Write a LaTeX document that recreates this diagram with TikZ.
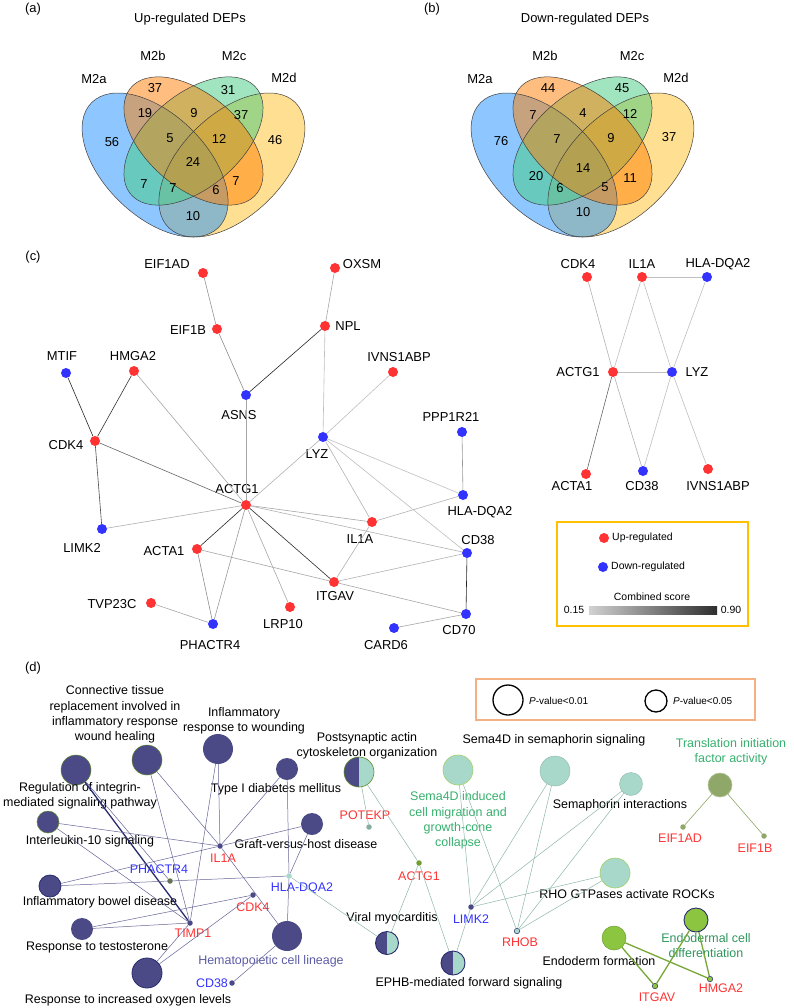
\documentclass[tikz,border=0pt]{standalone}
\usepackage{fontspec}
\setmainfont{Liberation Sans}
\usepackage{tikz}
\usetikzlibrary{shapes}

\definecolor{vblue}{RGB}{30,144,255}
\definecolor{vorange}{RGB}{255,127,0}
\definecolor{vgreen}{RGB}{67,205,128}
\definecolor{vyellow}{RGB}{255,193,37}
\definecolor{upred}{RGB}{255,51,51}
\definecolor{dnblue}{RGB}{51,51,255}
\definecolor{boxgold}{RGB}{255,192,0}
\definecolor{boxpeach}{RGB}{244,177,131}
\definecolor{dpurple}{RGB}{75,74,134}
\definecolor{lteal}{RGB}{168,216,202}
\definecolor{tgreen}{RGB}{140,197,64}
\definecolor{tolive}{RGB}{143,168,105}
\definecolor{txtgreen}{RGB}{55,176,110}
\definecolor{hemtxt}{RGB}{92,92,166}
\definecolor{navyb}{RGB}{40,44,110}

\tikzset{
  vline/.style={draw=black!75,line width=0.5bp},
  vtxt/.style={font=\fontsize{13}{15.5}\selectfont,inner sep=0pt},
  legtxt/.style={font=\fontsize{10.5}{12}\selectfont,inner sep=0pt},
  dl/.style={font=\fontsize{12.5}{15.5}\selectfont,inner sep=0pt,align=center},
  up/.style={circle,fill=upred,inner sep=0pt,minimum size=10bp},
  dn/.style={circle,fill=dnblue,inner sep=0pt,minimum size=10bp},
  ppi/.style={line width=0.6bp,draw=black!#1},
  tp/.style={circle,inner sep=0pt,fill=dpurple,minimum size=#1},
  tt/.style={circle,inner sep=0pt,fill=lteal,minimum size=#1},
  th/.style={circle,inner sep=0pt,fill=lteal,minimum size=#1,
    path picture={\fill[dpurple] (path picture bounding box.north west) rectangle (path picture bounding box.south);}},
  gd/.style={circle,inner sep=0pt,minimum size=5.5bp,fill=#1},
  pe/.style={draw=dpurple!85,line width=0.5bp},
  te/.style={draw=lteal!85!black,line width=0.5bp},
  ge/.style={draw=tgreen!85!black,line width=1.3bp},
  oe/.style={draw=tolive,line width=0.6bp}
}

\begin{document}
\begin{tikzpicture}
\fill[white] (0bp,0bp) rectangle (794bp,-1008bp);
\useasboundingbox (0bp,0bp) rectangle (794bp,-1008bp);

\node (pa) at (33bp,-9bp) [vtxt] {(a)};
\node (pb) at (432bp,-9bp) [vtxt] {(b)};
\node (pc) at (33bp,-257bp) [vtxt] {(c)};
\node (pd) at (33bp,-668bp) [vtxt] {(d)};
\node (ta) at (190bp,-19bp) [vtxt] {Up-regulated DEPs};
\node (tb) at (585bp,-19bp) [vtxt] {Down-regulated DEPs};

\fill[vyellow,fill opacity=0.5,shift={(231.9bp,-165bp)},xscale=256,yscale=252.6,rotate=45] (0,0) ellipse (0.35bp and 0.2bp);
\fill[vblue,fill opacity=0.5,shift={(155.1bp,-165bp)},xscale=256,yscale=252.6,rotate=-45] (0,0) ellipse (0.35bp and 0.2bp);
\fill[vgreen,fill opacity=0.5,shift={(193.5bp,-141bp)},xscale=244,yscale=225,rotate=45] (0,0) ellipse (0.35bp and 0.2bp);
\fill[vorange,fill opacity=0.5,shift={(193.5bp,-141bp)},xscale=244,yscale=225,rotate=-45] (0,0) ellipse (0.35bp and 0.2bp);
\draw[vline,shift={(231.9bp,-165bp)},xscale=256,yscale=252.6,rotate=45] (0,0) ellipse (0.35bp and 0.2bp);
\draw[vline,shift={(155.1bp,-165bp)},xscale=256,yscale=252.6,rotate=-45] (0,0) ellipse (0.35bp and 0.2bp);
\draw[vline,shift={(193.5bp,-141bp)},xscale=244,yscale=225,rotate=45] (0,0) ellipse (0.35bp and 0.2bp);
\draw[vline,shift={(193.5bp,-141bp)},xscale=244,yscale=225,rotate=-45] (0,0) ellipse (0.35bp and 0.2bp);

\fill[vyellow,fill opacity=0.5,shift={(620.9bp,-165bp)},xscale=256,yscale=252.6,rotate=45] (0,0) ellipse (0.35bp and 0.2bp);
\fill[vblue,fill opacity=0.5,shift={(544.1bp,-165bp)},xscale=256,yscale=252.6,rotate=-45] (0,0) ellipse (0.35bp and 0.2bp);
\fill[vgreen,fill opacity=0.5,shift={(582.5bp,-141bp)},xscale=244,yscale=225,rotate=45] (0,0) ellipse (0.35bp and 0.2bp);
\fill[vorange,fill opacity=0.5,shift={(582.5bp,-141bp)},xscale=244,yscale=225,rotate=-45] (0,0) ellipse (0.35bp and 0.2bp);
\draw[vline,shift={(620.9bp,-165bp)},xscale=256,yscale=252.6,rotate=45] (0,0) ellipse (0.35bp and 0.2bp);
\draw[vline,shift={(544.1bp,-165bp)},xscale=256,yscale=252.6,rotate=-45] (0,0) ellipse (0.35bp and 0.2bp);
\draw[vline,shift={(582.5bp,-141bp)},xscale=244,yscale=225,rotate=45] (0,0) ellipse (0.35bp and 0.2bp);
\draw[vline,shift={(582.5bp,-141bp)},xscale=244,yscale=225,rotate=-45] (0,0) ellipse (0.35bp and 0.2bp);

\node (aM2a) at (94bp,-79bp) [vtxt] {M2a};
\node (aM2b) at (153bp,-56bp) [vtxt] {M2b};
\node (aM2c) at (234bp,-56bp) [vtxt] {M2c};
\node (aM2d) at (284bp,-78bp) [vtxt] {M2d};
\node (bM2a) at (480bp,-79bp) [vtxt] {M2a};
\node (bM2b) at (545bp,-56bp) [vtxt] {M2b};
\node (bM2c) at (632bp,-56bp) [vtxt] {M2c};
\node (bM2d) at (676bp,-78bp) [vtxt] {M2d};

\node (a1) at (112bp,-142bp) [vtxt] {56};
\node (a2) at (155bp,-88bp) [vtxt] {37};
\node (a3) at (228bp,-90bp) [vtxt] {31};
\node (a4) at (275bp,-140bp) [vtxt] {46};
\node (a5) at (145bp,-113bp) [vtxt] {19};
\node (a6) at (194bp,-113bp) [vtxt] {9};
\node (a7) at (241bp,-115bp) [vtxt] {37};
\node (a8) at (170bp,-138bp) [vtxt] {5};
\node (a9) at (219bp,-139bp) [vtxt] {12};
\node (a10) at (193bp,-162bp) [vtxt] {24};
\node (a11) at (144bp,-184bp) [vtxt] {7};
\node (a12) at (173bp,-188bp) [vtxt] {7};
\node (a13) at (216bp,-190bp) [vtxt] {6};
\node (a14) at (236bp,-181bp) [vtxt] {7};
\node (a15) at (193bp,-216bp) [vtxt] {10};

\node (b1) at (501bp,-141bp) [vtxt] {76};
\node (b2) at (548bp,-88bp) [vtxt] {44};
\node (b3) at (622bp,-88bp) [vtxt] {45};
\node (b4) at (669bp,-137bp) [vtxt] {37};
\node (b5) at (533bp,-115bp) [vtxt] {7};
\node (b6) at (583bp,-113bp) [vtxt] {4};
\node (b7) at (630bp,-114bp) [vtxt] {12};
\node (b8) at (557bp,-139bp) [vtxt] {7};
\node (b9) at (611bp,-138bp) [vtxt] {9};
\node (b10) at (583bp,-168bp) [vtxt] {14};
\node (b11) at (536bp,-176bp) [vtxt] {20};
\node (b12) at (560bp,-188bp) [vtxt] {6};
\node (b13) at (605bp,-187bp) [vtxt] {5};
\node (b14) at (630bp,-178bp) [vtxt] {11};
\node (b15) at (583bp,-212bp) [vtxt] {10};

\node (EIF1AD) at (203bp,-273bp)[up] {};
\node (OXSM) at (335bp,-268bp)[up] {};
\node (EIF1B) at (217bp,-329bp)[up] {};
\node (NPL) at (325bp,-326bp)[up] {};
\node (MTIF) at (66bp,-373bp)[dn] {};
\node (HMGA2) at (134bp,-371bp)[up] {};
\node (IVNS1ABP) at (393bp,-372bp)[up] {};
\node (ASNS) at (246bp,-395bp)[dn] {};
\node (CDK4) at (95bp,-441bp)[up] {};
\node (LYZ) at (323bp,-437bp)[dn] {};
\node (PPP1R21) at (462bp,-432bp)[dn] {};
\node (ACTG1) at (246bp,-505bp)[up] {};
\node (HLADQA2) at (463bp,-495bp)[dn] {};
\node (IL1A) at (372bp,-522bp)[up] {};
\node (LIMK2) at (102bp,-529bp)[dn] {};
\node (ACTA1) at (197bp,-549bp)[up] {};
\node (CD38) at (467bp,-553bp)[dn] {};
\node (ITGAV) at (334bp,-582bp)[up] {};
\node (TVP23C) at (151bp,-603bp)[up] {};
\node (LRP10) at (290bp,-607bp)[up] {};
\node (CD70) at (466bp,-614bp)[dn] {};
\node (CARD6) at (394bp,-628bp)[dn] {};
\node (PHACTR4) at (213bp,-624bp)[dn] {};

\node (lEIF1AD) at (167bp,-264bp)[vtxt] {EIF1AD};
\node (lOXSM) at (362bp,-264bp)[vtxt] {OXSM};
\node (lEIF1B) at (188bp,-330bp)[vtxt] {EIF1B};
\node (lNPL) at (348bp,-326bp)[vtxt] {NPL};
\node (lMTIF) at (62bp,-356bp)[vtxt] {MTIF};
\node (lHMGA2) at (133bp,-356bp)[vtxt] {HMGA2};
\node (lIVNS1ABP) at (399bp,-357bp)[vtxt] {IVNS1ABP};
\node (lASNS) at (239bp,-415bp)[vtxt] {ASNS};
\node (lCDK4) at (66bp,-445bp)[vtxt] {CDK4};
\node (lLYZ) at (317bp,-454bp)[vtxt] {LYZ};
\node (lPPP1R21) at (451bp,-417bp)[vtxt] {PPP1R21};
\node (lACTG1) at (237bp,-489bp)[vtxt] {ACTG1};
\node (lHLADQA2) at (480bp,-512bp)[vtxt] {HLA-DQA2};
\node (lIL1A) at (360bp,-539bp)[vtxt] {IL1A};
\node (lLIMK2) at (82bp,-548bp)[vtxt] {LIMK2};
\node (lACTA1) at (164bp,-551bp)[vtxt] {ACTA1};
\node (lCD38) at (478bp,-540bp)[vtxt] {CD38};
\node (lITGAV) at (335bp,-596bp)[vtxt] {ITGAV};
\node (lTVP23C) at (112bp,-604bp)[vtxt] {TVP23C};
\node (lLRP10) at (283bp,-624bp)[vtxt] {LRP10};
\node (lCD70) at (459bp,-630bp)[vtxt] {CD70};
\node (lCARD6) at (386bp,-645bp)[vtxt] {CARD6};
\node (lPHACTR4) at (210bp,-645bp)[vtxt] {PHACTR4};

\draw [ppi=45] (EIF1AD) -- (EIF1B);
\draw [ppi=45] (EIF1B) -- (ASNS);
\draw [ppi=35] (OXSM) -- (NPL);
\draw [ppi=85] (NPL) -- (ASNS);
\draw [ppi=25] (NPL) -- (LYZ);
\draw [ppi=25] (IVNS1ABP) -- (LYZ);
\draw [ppi=85] (MTIF) -- (CDK4);
\draw [ppi=80] (HMGA2) -- (CDK4);
\draw [ppi=35] (HMGA2) -- (ACTG1);
\draw [ppi=35] (ASNS) -- (ACTG1);
\draw [ppi=60] (CDK4) -- (ACTG1);
\draw [ppi=70] (CDK4) -- (LIMK2);
\draw [ppi=30] (LIMK2) -- (ACTG1);
\draw [ppi=30] (LYZ) -- (ACTG1);
\draw [ppi=35] (ACTG1) -- (IL1A);
\draw [ppi=30] (ACTG1) -- (CD38);
\draw [ppi=85] (ACTG1) -- (ACTA1);
\draw [ppi=40] (ACTG1) -- (PHACTR4);
\draw [ppi=35] (ACTG1) -- (LRP10);
\draw [ppi=85] (ACTG1) -- (ITGAV);
\draw [ppi=45] (ACTA1) -- (PHACTR4);
\draw [ppi=35] (ACTA1) -- (ITGAV);
\draw [ppi=35] (TVP23C) -- (PHACTR4);
\draw [ppi=35] (CARD6) -- (CD70);
\draw [ppi=85] (CD38) -- (CD70);
\draw [ppi=35] (ITGAV) -- (CD70);
\draw [ppi=30] (ITGAV) -- (CD38);
\draw [ppi=30] (ITGAV) -- (IL1A);
\draw [ppi=30] (IL1A) -- (HLADQA2);
\draw [ppi=30] (IL1A) -- (LYZ);
\draw [ppi=25] (LYZ) -- (HLADQA2);
\draw [ppi=25] (LYZ) -- (CD38);
\draw [ppi=40] (PPP1R21) -- (HLADQA2);

\node (sCDK4) at (587bp,-277bp)[up] {};
\node (sIL1A) at (642bp,-277bp)[up] {};
\node (sHLADQA2) at (707bp,-277bp)[dn] {};
\node (sACTG1) at (613bp,-372bp)[up] {};
\node (sLYZ) at (672bp,-372bp)[dn] {};
\node (sACTA1) at (586bp,-474bp)[up] {};
\node (sCD38) at (643bp,-471bp)[dn] {};
\node (sIVNS1ABP) at (708bp,-469bp)[up] {};
\node (lsCDK4) at (578bp,-264bp)[vtxt] {CDK4};
\node (lsIL1A) at (642bp,-264bp)[vtxt] {IL1A};
\node (lsHLADQA2) at (718bp,-264bp)[vtxt] {HLA-DQA2};
\node (lsACTG1) at (578bp,-372bp)[vtxt] {ACTG1};
\node (lsLYZ) at (697bp,-372bp)[vtxt] {LYZ};
\node (lsACTA1) at (572bp,-486bp)[vtxt] {ACTA1};
\node (lsCD38) at (642bp,-486bp)[vtxt] {CD38};
\node (lsIVNS1ABP) at (718bp,-486bp)[vtxt] {IVNS1ABP};
\draw [ppi=30] (sCDK4) -- (sACTG1);
\draw [ppi=25] (sIL1A) -- (sACTG1);
\draw [ppi=25] (sIL1A) -- (sLYZ);
\draw [ppi=25] (sIL1A) -- (sHLADQA2);
\draw [ppi=25] (sHLADQA2) -- (sLYZ);
\draw [ppi=25] (sACTG1) -- (sLYZ);
\draw [ppi=60] (sACTG1) -- (sACTA1);
\draw [ppi=30] (sACTG1) -- (sCD38);
\draw [ppi=25] (sLYZ) -- (sCD38);
\draw [ppi=25] (sLYZ) -- (sIVNS1ABP);

\node (leg1) at (652.5bp,-574bp)[draw=boxgold,line width=1.2bp,minimum width=191bp,minimum height=104bp] {};
\node (kUp) at (604bp,-538bp)[up] {};
\node (kDn) at (603bp,-567bp)[dn] {};
\node (lkUp) at (612bp,-538bp)[legtxt,anchor=west] {Up-regulated};
\node (lkDn) at (611bp,-567bp)[legtxt,anchor=west] {Down-regulated};
\node (lkCS) at (652bp,-597bp)[legtxt] {Combined score};
\shade[left color=black!18,right color=black!82] (589bp,-606bp) rectangle (717bp,-614bp);
\node (lk15) at (574bp,-610bp)[legtxt] {0.15};
\node (lk90) at (731bp,-610bp)[legtxt] {0.90};

\node (leg2) at (615.5bp,-699.5bp)[draw=boxpeach,line width=1.2bp,minimum width=279bp,minimum height=41bp] {};
\node (kP1) at (508bp,-700bp)[circle,draw=black,line width=1.3bp,minimum size=30bp,inner sep=0pt] {};
\node (kP5) at (656bp,-701bp)[circle,draw=black,line width=1.3bp,minimum size=22bp,inner sep=0pt] {};
\node (lkP1) at (529bp,-701bp)[legtxt,anchor=west,font=\fontsize{10}{12}\selectfont] {\textit{P}-value<0.01};
\node (lkP5) at (673bp,-701bp)[legtxt,anchor=west,font=\fontsize{10}{12}\selectfont] {\textit{P}-value<0.05};

\node (conn) at (147bp,-760bp)[tp=30bp,draw=tgreen!70!black,line width=0.5bp] {};
\node (integ) at (76bp,-770bp)[tp=30bp,draw=tgreen!70!black,line width=0.5bp] {};
\node (wound) at (218bp,-749bp)[tp=30bp] {};
\node (diab) at (287bp,-769bp)[tp=22bp] {};
\node (il10) at (48bp,-822bp)[tp=22bp,draw=tgreen!70!black,line width=0.5bp] {};
\node (graft) at (312bp,-824bp)[tp=22bp] {};
\node (ibd) at (50bp,-886bp)[tp=22bp,draw=navyb,line width=0.8bp] {};
\node (testo) at (82bp,-929bp)[tp=22bp] {};
\node (oxy) at (147bp,-973bp)[tp=30bp,draw=navyb,line width=0.8bp] {};
\node (hema) at (287bp,-936bp)[tp=30bp] {};
\node (post) at (359bp,-772bp)[th=30bp,draw=tgreen!70!black,line width=0.6bp] {};
\node (sema4di) at (458bp,-770bp)[tt=30bp,draw=tgreen!80,line width=0.6bp] {};
\node (sema4ds) at (555bp,-771bp)[tt=30bp,draw=lteal!85!black,line width=0.4bp] {};
\node (semaint) at (631bp,-784bp)[tt=23bp,draw=lteal!85!black,line width=0.4bp] {};
\node (rho) at (615bp,-873bp)[tt=30bp,draw=tgreen!80,line width=0.6bp] {};
\node (transl) at (720bp,-785bp)[circle,inner sep=0pt,minimum size=24bp,fill=tolive,draw=tolive!70,line width=0.6bp] {};
\node (viral) at (387bp,-943bp)[th=23bp,draw=navyb,line width=0.9bp] {};
\node (ephb) at (453bp,-963bp)[th=24bp,draw=navyb,line width=0.9bp] {};
\node (endo) at (614bp,-938bp)[circle,inner sep=0pt,minimum size=24bp,fill=tgreen,draw=tgreen!80!black,line width=0.5bp] {};
\node (endod) at (696bp,-920bp)[circle,inner sep=0pt,minimum size=24bp,fill=tgreen,draw=navyb,line width=0.9bp] {};

\node (lconn) at (115bp,-714.5bp)[dl] {Connective tissue\\replacement involved in\\inflammatory response\\wound healing};
\node (linteg) at (80bp,-796bp)[dl] {Regulation of integrin-\\mediated signaling pathway};
\node (lwound) at (244bp,-720.5bp)[dl] {Inflammatory\\response to wounding};
\node (ldiab) at (276bp,-789bp)[dl] {Type I diabetes mellitus};
\node (lil10) at (90bp,-841bp)[dl] {Interleukin-10 signaling};
\node (lgraft) at (306bp,-844bp)[dl] {Graft-versus-host disease};
\node (libd) at (100bp,-902bp)[dl] {Inflammatory bowel disease};
\node (ltesto) at (97bp,-947bp)[dl] {Response to testosterone};
\node (loxy) at (128bp,-1000bp)[dl] {Response to increased oxygen levels};
\node (lhema) at (271bp,-961bp)[dl,text=hemtxt] {Hematopoietic cell lineage};
\node (lpost) at (367bp,-745.5bp)[dl] {Postsynaptic actin\\cytoskeleton organization};
\node (lsema4ds) at (554bp,-740bp)[dl] {Sema4D in semaphorin signaling};
\node (lsema4di) at (458bp,-820.5bp)[dl,text=txtgreen] {Sema4D induced\\cell migration and\\growth-cone\\collapse};
\node (lsemaint) at (620bp,-805bp)[dl] {Semaphorin interactions};
\node (lrho) at (627bp,-894bp)[dl] {RHO GTPases activate ROCKs};
\node (ltransl) at (731bp,-752bp)[dl,text=txtgreen] {Translation initiation\\factor activity};
\node (lviral) at (392bp,-918bp)[dl] {Viral myocarditis};
\node (lephb) at (469bp,-983bp)[dl] {EPHB-mediated forward signaling};
\node (lendo) at (599bp,-961bp)[dl] {Endoderm formation};
\node (lendod) at (706bp,-945.5bp)[dl,text=txtgreen!85!black] {Endodermal cell\\differentiation};

\node (dIL1A) at (220bp,-846bp)[gd=dpurple] {};
\node (dPHACTR4) at (170bp,-881bp)[gd=tolive!70!black] {};
\node (dHLADQA2) at (289bp,-876bp)[gd=lteal] {};
\node (dCDK4) at (253bp,-895bp)[gd=dpurple] {};
\node (dTIMP1) at (190bp,-923bp)[gd=dpurple] {};
\node (dCD38) at (232bp,-983bp)[gd=dpurple] {};
\node (dPOTEKP) at (369bp,-827bp)[gd=lteal!80!black] {};
\node (dACTG1) at (419bp,-863bp)[gd=tgreen!80!black] {};
\node (dLIMK2) at (471bp,-907bp)[gd=dpurple] {};
\node (dRHOB) at (517bp,-931bp)[gd=lteal,draw=navyb,line width=0.5bp] {};
\node (dEIF1AD) at (683bp,-827bp)[gd=tolive] {};
\node (dEIF1B) at (764bp,-836bp)[gd=tolive] {};
\node (dITGAV) at (655bp,-986bp)[gd=tgreen,draw=navyb,line width=0.5bp] {};
\node (dHMGA2) at (710bp,-979bp)[gd=tgreen,draw=navyb,line width=0.5bp] {};

\node (ldIL1A) at (223bp,-858bp)[dl,text=upred] {IL1A};
\node (ldPHACTR4) at (159bp,-869bp)[dl,text=dnblue] {PHACTR4};
\node (ldHLADQA2) at (302bp,-888bp)[dl,text=dnblue] {HLA-DQA2};
\node (ldCDK4) at (253bp,-907bp)[dl,text=upred] {CDK4};
\node (ldTIMP1) at (193bp,-933bp)[dl,text=upred] {TIMP1};
\node (ldCD38) at (212bp,-983bp)[dl,text=dnblue] {CD38};
\node (ldPOTEKP) at (365bp,-815bp)[dl,text=upred] {POTEKP};
\node (ldACTG1) at (419bp,-876bp)[dl,text=upred] {ACTG1};
\node (ldLIMK2) at (471bp,-919bp)[dl,text=dnblue] {LIMK2};
\node (ldRHOB) at (520bp,-942bp)[dl,text=upred] {RHOB};
\node (ldEIF1AD) at (680bp,-838bp)[dl,text=upred] {EIF1AD};
\node (ldEIF1B) at (755bp,-848bp)[dl,text=upred] {EIF1B};
\node (ldITGAV) at (657bp,-997bp)[dl,text=upred] {ITGAV};
\node (ldHMGA2) at (721bp,-988bp)[dl,text=upred] {HMGA2};

\draw [pe] (conn) -- (dTIMP1);
\draw [pe] (conn) -- (dIL1A);
\draw [pe,draw=navyb,line width=1.3bp] (integ) -- (dTIMP1);
\draw [pe] (integ) -- (dPHACTR4);
\draw [pe] (wound) -- (dIL1A);
\draw [pe] (wound) -- (dTIMP1);
\draw [pe] (diab) -- (dIL1A);
\draw [pe] (diab) -- (dHLADQA2);
\draw [pe] (il10) -- (dIL1A);
\draw [pe] (il10) -- (dTIMP1);
\draw [pe] (graft) -- (dIL1A);
\draw [pe] (graft) -- (dHLADQA2);
\draw [pe] (ibd) -- (dIL1A);
\draw [pe] (ibd) -- (dHLADQA2);
\draw [pe] (testo) -- (dTIMP1);
\draw [pe] (testo) -- (dCDK4);
\draw [pe] (oxy) -- (dTIMP1);
\draw [pe] (oxy) -- (dCDK4);
\draw [pe] (hema) -- (dIL1A);
\draw [pe] (hema) -- (dHLADQA2);
\draw [pe] (hema) -- (dCD38);
\draw [te] (dHLADQA2) -- (viral);
\draw [te] (post) -- (dPOTEKP);
\draw [te] (post) -- (dACTG1);
\draw [te] (dACTG1) -- (viral);
\draw [te] (dACTG1) -- (ephb);
\draw [te] (sema4di) -- (dLIMK2);
\draw [te] (sema4di) -- (dRHOB);
\draw [te] (sema4ds) -- (dLIMK2);
\draw [te] (sema4ds) -- (dRHOB);
\draw [te] (semaint) -- (dLIMK2);
\draw [te] (semaint) -- (dRHOB);
\draw [te] (rho) -- (dLIMK2);
\draw [te] (rho) -- (dRHOB);
\draw [te] (ephb) -- (dLIMK2);
\draw [ge] (endo) -- (dITGAV);
\draw [ge] (endo) -- (dHMGA2);
\draw [ge] (endod) -- (dITGAV);
\draw [ge] (endod) -- (dHMGA2);
\draw [oe] (transl) -- (dEIF1AD);
\draw [oe] (transl) -- (dEIF1B);
\end{tikzpicture}
\end{document}
